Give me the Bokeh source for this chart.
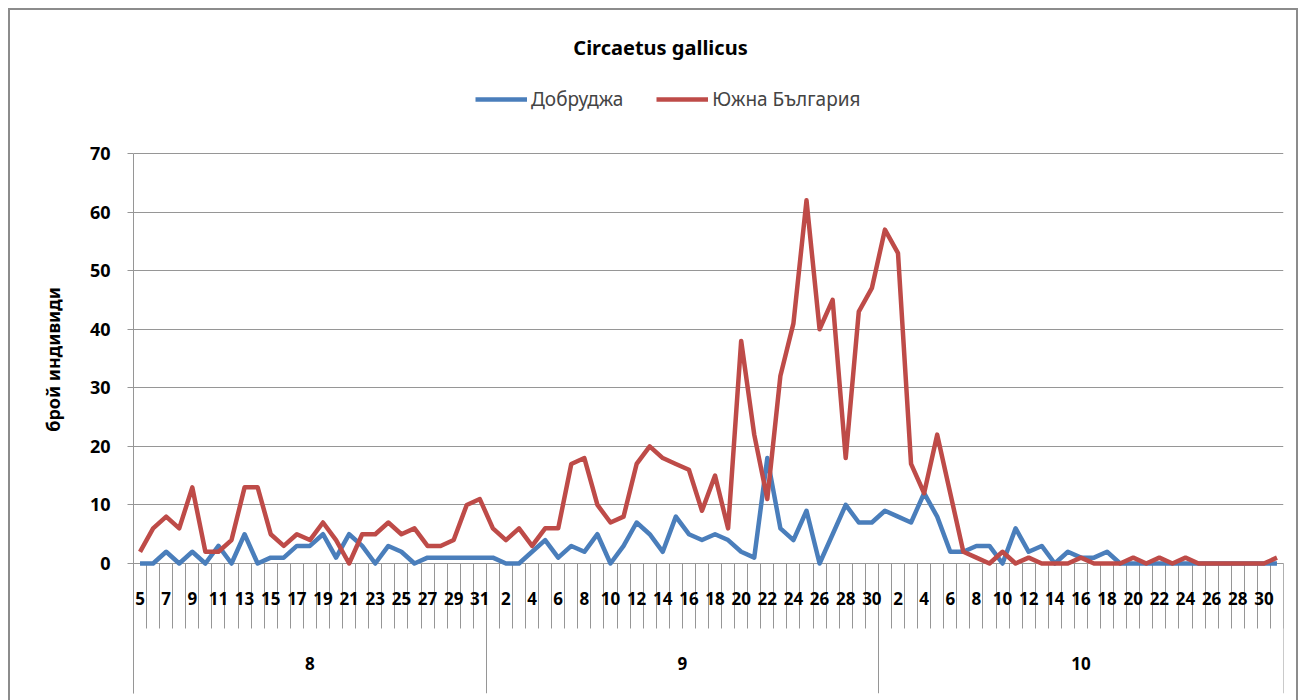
from bokeh.plotting import figure
from bokeh.models import Range1d, FixedTicker, LinearAxis, Legend, LegendItem, Label
from bokeh.embed import file_html
from bokeh.resources import INLINE

# ---- data -------------------------------------------------------------
months = ["8", "9", "10"]
aug_days = list(range(5, 32))
sep_days = list(range(1, 31))
oct_days = list(range(1, 32))

dobrudzha = [
    0, 0, 2, 0, 2, 0, 3, 0, 5, 0, 1, 1, 3, 3, 5, 1, 5, 3, 0, 3, 2, 0, 1, 1, 1, 1, 1,
    1, 0, 0, 2, 4, 1, 3, 2, 5, 0, 3, 7, 5, 2, 8, 5, 4, 5, 4, 2, 1, 18, 6, 4, 9, 0, 5, 10, 7, 7,
    9, 8, 7, 12, 8, 2, 2, 3, 3, 0, 6, 2, 3, 0, 2, 1, 1, 2, 0, 0, 0, 0, 0, 0, 0, 0, 0, 0, 0, 0, 0,
]
south_bg = [
    2, 6, 8, 6, 13, 2, 2, 4, 13, 13, 5, 3, 5, 4, 7, 4, 0, 5, 5, 7, 5, 6, 3, 3, 4, 10, 11,
    6, 4, 6, 3, 6, 6, 17, 18, 10, 7, 8, 17, 20, 18, 17, 16, 9, 15, 6, 38, 22, 11, 32, 41, 62, 40, 45, 18, 43, 47,
    57, 53, 17, 12, 22, 12, 2, 1, 0, 2, 0, 1, 0, 0, 0, 1, 0, 0, 0, 1, 0, 1, 0, 1, 0, 0, 0, 0, 0, 0, 1,
]
y_ticks = [0, 10, 20, 30, 40, 50, 60, 70]
series_names = ["Добруджа", "Южна България"]
title_text = "Circaetus gallicus"
y_title = "брой индивиди"

# ---- layout constants (pixels) -----------------------------------------
W, H = 1300, 700
FRAME_L, FRAME_R = 133, 1283
FRAME_T, FRAME_B = 25, 693        # frame holds title/legend space and category rows
Y_TOP_PX, Y_ZERO_PX = 153, 563     # where 70 and 0 sit
CAT_DAY_LEN = 65
CAT_MONTH_LEN = FRAME_B - Y_ZERO_PX
TITLE_CX, TITLE_CY = 660, 47
LEG_X, LEG_TOP = 475, 92

ppu = (Y_ZERO_PX - Y_TOP_PX) / (y_ticks[-1] - y_ticks[0])
y_end = y_ticks[-1] + (Y_TOP_PX - FRAME_T) / ppu
y_start = y_ticks[0] - (FRAME_B - Y_ZERO_PX) / ppu

# ---- derived categorical positions -------------------------------------
days = aug_days + sep_days + oct_days
n = len(days)
xs = list(range(n))
group_sizes = [len(aug_days), len(sep_days), len(oct_days)]
bounds = [-0.5]
for g in group_sizes:
    bounds.append(bounds[-1] + g)
group_centers = [(bounds[k] + bounds[k + 1]) / 2 for k in range(len(months))]
cat_bounds = [i - 0.5 for i in range(n + 1)]
day_ticks = [i for i in xs if i % 2 == 0]


def overrides(ticks, labels):
    d = {}
    for t, lab in zip(ticks, labels):
        d[t] = lab
        d[str(t)] = lab
    return d


FONT = "Noto Sans"
GRID = "#969696"
EDGE = "#8c8c8c"
BLUE = "#4A7EBB"
RED = "#BE4B48"

p = figure(
    width=W, height=H,
    x_range=Range1d(-0.5, n - 0.5), y_range=Range1d(y_start, y_end),
    output_backend="svg", toolbar_location=None,
    x_axis_type=None,
    min_border_left=FRAME_L, min_border_right=W - FRAME_R,
    min_border_top=FRAME_T, min_border_bottom=H - FRAME_B,
)
p.title = None
p.outline_line_color = None
p.background_fill_color = "white"
p.border_fill_color = None
g = f"linear-gradient({EDGE},{EDGE})"
p.styles = {
    "background": (
        f"{g} 8px 8px / {W - 10}px 2px no-repeat, "
        f"{g} 8px 8px / 2px {H}px no-repeat, "
        f"{g} {W - 4}px 8px / 2px {H}px no-repeat, white"
    )
}

# y axis
yax = p.yaxis[0]
yax.ticker = FixedTicker(ticks=y_ticks)
yax.bounds = (y_start, y_ticks[-1])
yax.axis_line_color = GRID
yax.major_tick_line_color = GRID
yax.major_tick_out = 6
yax.major_tick_in = 0
yax.minor_tick_line_color = None
yax.minor_tick_out = 0
yax.major_label_text_font = FONT
yax.major_label_text_font_style = "bold"
yax.major_label_text_font_size = "18px"
yax.major_label_text_color = "black"
yax.major_label_standoff = 17
yax.axis_label = y_title
yax.axis_label_text_font = FONT
yax.axis_label_text_font_style = "bold"
yax.axis_label_text_font_size = "18px"
yax.axis_label_text_color = "black"
yax.axis_label_standoff = 22

p.ygrid.ticker = FixedTicker(ticks=y_ticks)
p.ygrid.grid_line_color = GRID
p.xgrid.visible = False

# category axis line + separators (months long, days short)
ax_sep = LinearAxis(
    ticker=FixedTicker(ticks=bounds, minor_ticks=cat_bounds),
    major_label_overrides=overrides(bounds, [""] * len(bounds)),
    fixed_location=0, level="underlay",
)
ax_sep.axis_line_color = GRID
ax_sep.major_tick_line_color = GRID
ax_sep.major_tick_in = 0
ax_sep.major_tick_out = CAT_MONTH_LEN
ax_sep.minor_tick_line_color = GRID
ax_sep.minor_tick_in = 0
ax_sep.minor_tick_out = CAT_DAY_LEN
p.add_layout(ax_sep, "below")


def label_axis(ticks, labels, standoff):
    ax = LinearAxis(
        ticker=FixedTicker(ticks=ticks, minor_ticks=[]),
        major_label_overrides=overrides(ticks, labels),
        fixed_location=0,
    )
    ax.axis_line_color = None
    ax.major_tick_line_color = None
    ax.minor_tick_line_color = None
    ax.major_tick_in = 0
    ax.major_tick_out = 0
    ax.minor_tick_in = 0
    ax.minor_tick_out = 0
    ax.major_label_standoff = standoff
    ax.major_label_text_font = FONT
    ax.major_label_text_font_style = "bold"
    ax.major_label_text_font_size = "17px"
    ax.major_label_text_color = "black"
    p.add_layout(ax, "below")
    return ax


label_axis(day_ticks, [str(days[i]) for i in day_ticks], 28)
label_axis(group_centers, months, 93)

# data lines
r1 = p.line(xs, dobrudzha, line_color=BLUE, line_width=4.5, line_join="round")
r2 = p.line(xs, south_bg, line_color=RED, line_width=4.5, line_join="round")

# legend
legend = Legend(
    items=[LegendItem(label=series_names[0], renderers=[r1]),
           LegendItem(label=series_names[1], renderers=[r2])],
    orientation="horizontal",
    location=(LEG_X - FRAME_L, FRAME_B - LEG_TOP - 20),
    margin=0, padding=0, spacing=33,
    glyph_width=52, glyph_height=20, label_height=20,
    label_standoff=4,
    label_text_font=FONT, label_text_font_size="19px",
    border_line_color=None, background_fill_alpha=0,
)
p.add_layout(legend, "center")

# title
title = Label(
    text=title_text, x=TITLE_CX - FRAME_L, y=FRAME_B - TITLE_CY,
    x_units="screen", y_units="screen",
    text_align="center", text_baseline="middle",
    text_font=FONT, text_font_style="bold", text_font_size="20px",
    text_color="black",
)
p.add_layout(title)

open("out.html", "w").write(file_html(p, INLINE))
